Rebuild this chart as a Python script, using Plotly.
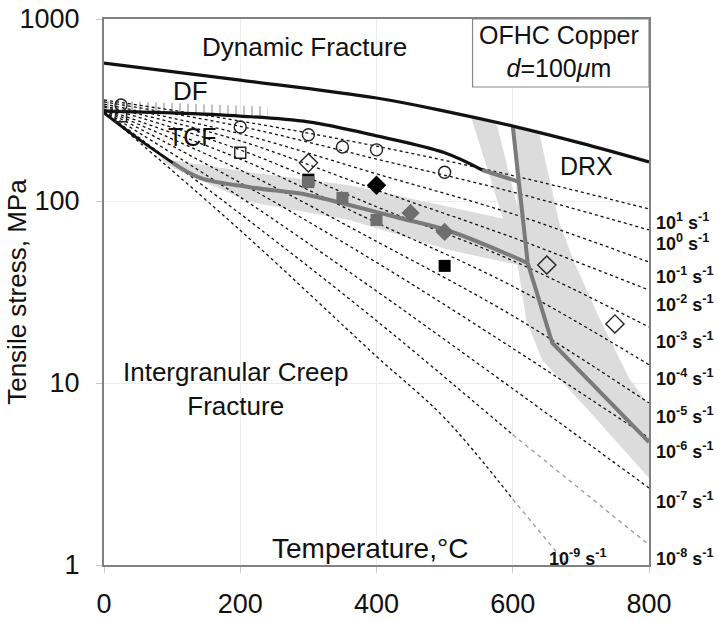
import math
import plotly.graph_objects as go

# ---- axis ticks -------------------------------------------------------------
x_ticks = [0, 200, 400, 600, 800]
y_ticks = [1, 10, 100, 1000]
y_tick_text = ["1", "10", "100", "1000"]

# ---- constant strain-rate contours (temperature, stress MPa) ----------------
rate_T = [0, 200, 400, 600, 800]
rate_labels = ["10<sup>1</sup> s<sup>-1</sup>", "10<sup>0</sup> s<sup>-1</sup>",
               "10<sup>-1</sup> s<sup>-1</sup>", "10<sup>-2</sup> s<sup>-1</sup>",
               "10<sup>-3</sup> s<sup>-1</sup>", "10<sup>-4</sup> s<sup>-1</sup>",
               "10<sup>-5</sup> s<sup>-1</sup>", "10<sup>-6</sup> s<sup>-1</sup>",
               "10<sup>-7</sup> s<sup>-1</sup>", "10<sup>-8</sup> s<sup>-1</sup>"]
rate_S = [
    [359, 275, 200, 138, 90.4],
    [350, 257, 170, 112, 69.3],
    [341, 234, 141, 85, 46.2],
    [333, 214, 115, 63, 32.4],
    [328, 191, 93, 47, 20.3],
    [320, 170, 76, 34, 12.6],
    [318, 148, 60, 23.4, 7.77],
    [316, 126, 46, 15.5, 4.99],
    [312, 105, 32, 9.3, 2.65],
    [310, 85, 22, 5.2, 1.29],
]
rate9_T = [0, 200, 400, 500, 600, 680]
rate9_S = [308, 69, 14, 6.42, 2.3, 1.0]
rate9_label = "10<sup>-9</sup> s<sup>-1</sup>"

# ---- mechanism boundaries ----------------------------------------------------
df_upper_T = [0, 200, 400, 500, 600, 700, 800]
df_upper_S = [573, 462, 368, 312, 258, 208, 164]

df_lower_T = [0, 100, 200, 300, 400, 500, 555]
df_lower_S = [312, 305, 293, 272, 228, 184, 148]
df_lower_ext_T = [555, 608]
df_lower_ext_S = [148, 128]

tcf_lower_T = [0, 53, 101]
tcf_lower_S = [305, 216, 162]

icf_T = [101, 141, 214, 299, 360, 434, 507, 595, 622]
icf_S = [162, 134, 119, 108, 95, 80.7, 68.4, 50.5, 45.6]

drx_T = [600, 622, 658, 800]
drx_S = [258, 45.6, 16.6, 4.74]

# ---- scatter bands -----------------------------------------------------------
band_icf_T = [82, 214, 360, 507, 595, 617, 617, 595, 507, 360, 214, 101]
band_icf_S = [172, 144, 122, 92.7, 78.6, 72.9, 43.9, 45.6, 53.8, 78.6, 98.8, 152]

band_drx_T = [539, 561, 580, 598, 607, 620, 643, 708, 800, 800, 771, 727, 690, 668, 639, 600]
band_drx_S = [288, 158, 95, 57.3, 44.5, 22.2, 13.4, 7.29, 3.01, 7.57, 10.6, 22.8, 46.2, 76.7, 236, 256]

gap_T = [576, 600, 607]
gap_S = [268, 256, 92.7]

hatch_T = [0, 80, 160, 240, 240, 160, 80, 0]
hatch_S = [312, 305, 298, 290, 330, 340, 348, 356]

# ---- test data -------------------------------------------------------------
open_circle_T = [25, 200, 300, 350, 400, 500]
open_circle_S = [337, 255, 231, 198, 191, 144]
open_square_T = [25, 200]
open_square_S = [292, 184]
open_diamond_T = [300, 650, 750]
open_diamond_S = [162, 44.5, 21.1]
black_square_T = [300, 500]
black_square_S = [131, 44]
gray_square_T = [300, 350, 400]
gray_square_S = [127, 104, 78.7]
black_diamond_T = [400]
black_diamond_S = [122]
gray_diamond_T = [450, 500]
gray_diamond_S = [86, 67.6]

FONT = "Liberation Sans, Arial, sans-serif"
BAND = "#dcdcdc"
GRAY = "#7a7a7a"
INK = "#111111"

fig = go.Figure()


def poly(T, S, color):
    fig.add_trace(go.Scatter(x=T, y=S, mode="lines", fill="toself", fillcolor=color,
                             line=dict(width=0, color=color), hoverinfo="skip"))


def curve(T, S, color, width, dash="solid", shape="spline"):
    fig.add_trace(go.Scatter(x=T, y=S, mode="lines",
                             line=dict(color=color, width=width, dash=dash, shape=shape,
                                       smoothing=1.0)))


# shaded regions
poly(band_icf_T, band_icf_S, BAND)
poly(band_drx_T, band_drx_S, BAND)
poly(gap_T, gap_S, "white")

# hatched strip above the DF boundary
fig.add_trace(go.Scatter(x=hatch_T, y=hatch_S, mode="lines", fill="toself",
                         fillcolor="rgba(0,0,0,0)", line=dict(width=0),
                         fillpattern=dict(shape="|", fgcolor="#555555",
                                          bgcolor="rgba(0,0,0,0)", size=8, solidity=0.18),
                         hoverinfo="skip"))

# strain-rate contours
for i, S in enumerate(rate_S):
    if i == len(rate_S) - 1:
        curve(rate_T[:4], S[:4], INK, 1.3, "dot")
        curve(rate_T[3:], S[3:], "#999999", 1.3, "4px,4px", "linear")
    else:
        curve(rate_T, S, INK, 1.3, "dot")
curve(rate9_T[:5], rate9_S[:5], INK, 1.3, "dot")
curve(rate9_T[4:], rate9_S[4:], "#999999", 1.3, "4px,4px", "linear")

# mechanism boundaries
curve(icf_T, icf_S, GRAY, 4)
curve(drx_T, drx_S, GRAY, 4, shape="linear")
curve(df_lower_ext_T, df_lower_ext_S, GRAY, 4, shape="linear")
curve(tcf_lower_T, tcf_lower_S, INK, 3)
curve(df_lower_T, df_lower_S, INK, 3.2)
curve(df_upper_T, df_upper_S, INK, 3.2)


def pts(T, S, symbol, size, color, line_color=None, lw=0):
    fig.add_trace(go.Scatter(x=T, y=S, mode="markers",
                             marker=dict(symbol=symbol, size=size, color=color,
                                         line=dict(color=line_color or color, width=lw))))


pts(open_circle_T, open_circle_S, "circle-open", 12, "#222222", "#222222", 1.4)
pts(open_square_T, open_square_S, "square-open", 11, "#222222", "#222222", 1.4)
pts(open_diamond_T, open_diamond_S, "diamond-open", 14, "#222222", "#222222", 1.4)
pts(black_square_T, black_square_S, "square", 12, "#000000")
pts(gray_square_T, gray_square_S, "square", 12, "#6e6e6e")
pts(black_diamond_T, black_diamond_S, "diamond", 15, "#000000")
pts(gray_diamond_T, gray_diamond_S, "diamond", 14, "#6e6e6e")

# material box
fig.add_shape(type="rect", xref="x", yref="y", x0=541, x1=800, y0=423, y1=1000,
              line=dict(color="#888888", width=1.2), fillcolor="white", layer="above")


def text(T, S, s, size=26, **kw):
    # annotation positions on a log axis are given as log10 of the value
    fig.add_annotation(x=T, y=math.log10(S), xref="x", yref="y", text=s, showarrow=False,
                       font=dict(family=FONT, size=size, color=INK), **kw)


text(294, 702, "Dynamic Fracture")
text(127, 402, "DF")
text(130, 225, "TCF", size=25)
text(708, 156, "DRX", size=25)
text(193, 9.27, "Intergranular Creep<br>Fracture")
text(390, 1.24, "Temperature,°C", size=28)
text(668, 659, "OFHC Copper<br><i>d</i>=100<i>μ</i>m", size=25)

for lab, S in zip(rate_labels, rate_S):
    fig.add_annotation(x=800, y=math.log10(S[-1]), xref="x", yref="y", text=lab,
                       showarrow=False, xanchor="left", xshift=5, yshift=-13,
                       font=dict(family=FONT, size=18, color=INK, weight="bold"))
fig.add_annotation(x=rate9_T[-1], y=math.log10(rate9_S[-1]), xref="x", yref="y",
                   text=rate9_label, showarrow=False, xanchor="center", yanchor="bottom",
                   xshift=10, yshift=-6,
                   font=dict(family=FONT, size=18, color=INK, weight="bold"))

fig.add_annotation(x=-0.16, y=0.5, xref="paper", yref="paper", text="Tensile stress, MPa",
                   textangle=-90, showarrow=False, xanchor="center", yanchor="middle",
                   font=dict(family=FONT, size=26, color=INK))

axis_style = dict(showline=True, linecolor="#808080", linewidth=2, mirror=True,
                  ticks="outside", ticklen=6, tickcolor="#c8c8c8", automargin=False,
                  showgrid=True, gridcolor="#ececec", gridwidth=1, zeroline=False,
                  tickfont=dict(family=FONT, size=27, color=INK))

fig.update_layout(
    width=718, height=622,
    margin=dict(l=104, r=69, t=19, b=57),
    paper_bgcolor="white", plot_bgcolor="white",
    showlegend=False,
    xaxis=dict(range=[0, 800], tickvals=x_ticks, ticklabelstandoff=8, **axis_style),
    yaxis=dict(type="log", range=[0, 3], tickvals=y_ticks, ticktext=y_tick_text,
               ticklabelstandoff=11, **axis_style),
)

fig.write_html("out.html")
